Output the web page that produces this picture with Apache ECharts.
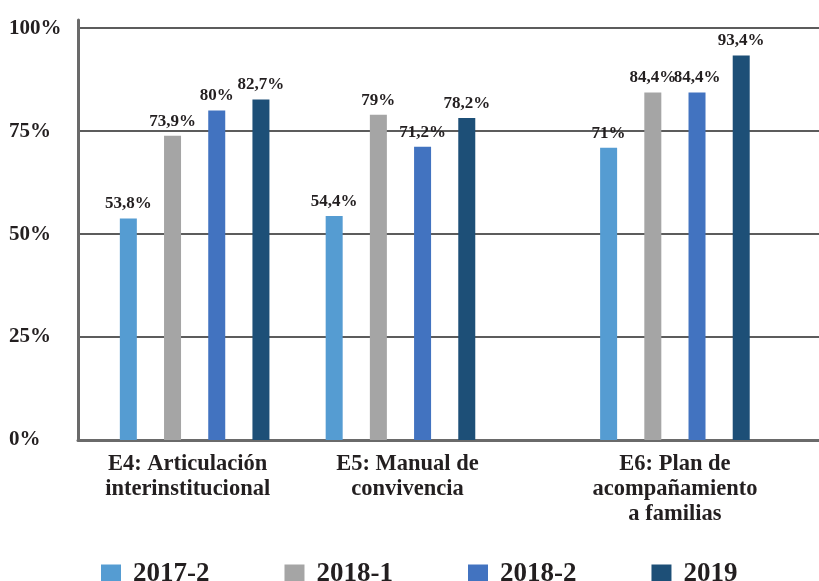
<!DOCTYPE html>
<html>
<head>
<meta charset="utf-8">
<script src="https://cdn.jsdelivr.net/npm/echarts@6/dist/echarts.min.js"></script>
<style>
  html, body { margin: 0; padding: 0; background: #ffffff; }
  #chart { width: 819px; height: 581px; }
</style>
</head>
<body>
<div id="chart"></div>
<script>
// ---- data ----
const groups = ['E4: Articulación\ninterinstitucional', 'E5: Manual de\nconvivencia', 'E6: Plan de\nacompañamiento\na familias'];
const seriesNames = ['2017-2', '2018-1', '2018-2', '2019'];
const v2017_2 = [53.8, 54.4, 71];
const v2018_1 = [73.9, 79, 84.4];
const v2018_2 = [80, 71.2, 84.4];
const v2019 = [82.7, 78.2, 93.4];
const yTickLabels = ['0%', '25%', '50%', '75%', '100%'];

// ---- layout (spacing of groups along the category axis) ----
const slotCount = 54;
const groupSlots = [8, 23, 43];
const labelPadding = [[0, 14, 0, 0], [0, 0, 0, 14], [0, 0, 0, 0]];
const colors = ['#559cd2', '#a5a5a5', '#4273c0', '#1d4f77'];
const FONT = '"Liberation Serif", "DejaVu Serif", serif';
const TEXT = '#231f20';

const categories = new Array(slotCount).fill('');
groupSlots.forEach((s, i) => {
  categories[s] = { value: groups[i], textStyle: { padding: labelPadding[i] } };
});
function spread(vals) {
  const arr = new Array(slotCount).fill(null);
  groupSlots.forEach((s, i) => { arr[s] = vals[i]; });
  return arr;
}
const seriesValues = [v2017_2, v2018_1, v2018_2, v2019];

const chart = echarts.init(document.getElementById('chart'), null, { renderer: 'canvas' });
chart.setOption({
  animation: false,
  backgroundColor: '#ffffff',
  color: colors,
  grid: { left: 78, right: 0, top: 20, bottom: 141, containLabel: false },
  legend: {
    data: seriesNames,
    top: 561,
    left: 101,
    padding: 0,
    icon: 'rect',
    itemWidth: 20,
    itemHeight: 20,
    itemGap: 75,
    textStyle: { fontFamily: FONT, fontWeight: 'bold', fontSize: 27, color: TEXT, padding: [0, 0, 0, 7] }
  },
  xAxis: {
    type: 'category',
    data: categories,
    axisLine: { show: true, lineStyle: { color: '#6a6a6a', width: 3 } },
    axisTick: { show: false },
    axisLabel: {
      interval: 0,
      margin: 12,
      fontFamily: FONT,
      fontWeight: 'bold',
      fontSize: 22.5,
      lineHeight: 25,
      color: TEXT,
      align: 'center'
    },
    splitLine: { show: false }
  },
  yAxis: {
    type: 'value',
    min: 0,
    max: 102,
    interval: 25,
    axisLine: { show: true, lineStyle: { color: '#6a6a6a', width: 3 } },
    axisTick: { show: false },
    axisLabel: {
      showMaxLabel: false,
      align: 'left',
      margin: 69,
      fontFamily: FONT,
      fontWeight: 'bold',
      fontSize: 21,
      color: TEXT,
      formatter: function (v) {
        const idx = [0, 25, 50, 75, 100].indexOf(v);
        return idx >= 0 ? yTickLabels[idx] : '';
      }
    },
    splitLine: { show: true, showMaxLine: false, lineStyle: { color: '#5c5c5c', width: 2 } }
  },
  series: seriesNames.map((name, i) => ({
    name: name,
    type: 'bar',
    data: spread(seriesValues[i]),
    barWidth: 17,
    barGap: '160%',
    itemStyle: { color: colors[i] },
    label: {
      show: true,
      position: 'top',
      distance: 6,
      fontFamily: FONT,
      fontWeight: 'bold',
      fontSize: 17,
      color: TEXT,
      formatter: function (p) { return p.value == null ? '' : String(p.value).replace('.', ',') + '%'; }
    }
  }))
});
</script>
</body>
</html>
